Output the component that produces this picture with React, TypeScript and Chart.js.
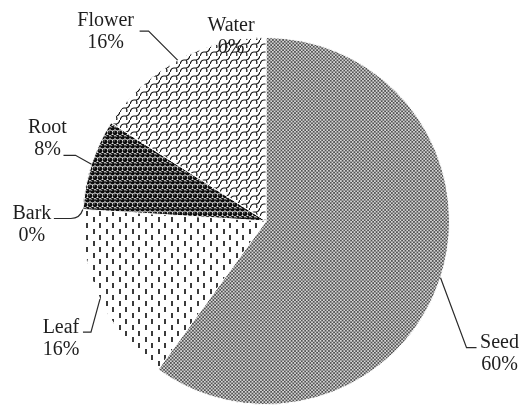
import React, { useEffect, useRef } from "react";
import { Chart, registerables } from "chart.js";

Chart.register(...registerables);

const categories = ["Seed", "Leaf", "Bark", "Root", "Flower", "Water"];
const values = [60, 16, 0, 8, 16, 0];

// label placement (offsets from the slice's outer edge point), not data
const LABEL_LAYOUT: Record<string, { knee?: [number, number]; tail?: [number, number]; text: [number, number]; curve?: boolean }> = {
  Seed: { knee: [26, 70], tail: [36, 70], text: [59, 65] },
  Leaf: { knee: [-9, 33], tail: [-17, 33], text: [-39, 29] },
  Bark: { knee: [-12, 9], tail: [-29, 9], text: [-51, 4], curve: true },
  Root: { knee: [-16, -9], tail: [-28, -9], text: [-44, -37] },
  Flower: { knee: [-29, -29], tail: [-38, -29], text: [-72, -39] },
  Water: { text: [-35, -12] },
};

function makeTile(w: number, h: number, draw: (c: CanvasRenderingContext2D) => void, scale = 1) {
  const cv = document.createElement("canvas");
  cv.width = w;
  cv.height = h;
  const c = cv.getContext("2d")!;
  draw(c);
  const p = c.createPattern(cv, "repeat")!;
  if (scale !== 1 && (p as any).setTransform) {
    p.setTransform(new DOMMatrix().scale(scale));
  }
  return p;
}

function makePatterns() {
  const seed = makeTile(
    4,
    4,
    (c) => {
      c.fillStyle = "#525252";
      c.fillRect(0, 0, 4, 4);
      c.fillStyle = "#d6d6d6";
      c.fillRect(0, 0, 2, 2);
      c.fillRect(2, 2, 2, 2);
    },
    0.85
  );
  const leaf = makeTile(13, 12, (c) => {
    c.fillStyle = "#ffffff";
    c.fillRect(0, 0, 13, 12);
    c.fillStyle = "#3a3a3a";
    c.fillRect(2, 1, 2, 5);
    c.fillRect(8, 7, 2, 5);
  });
  const bark = makeTile(4, 4, (c) => {
    c.fillStyle = "#999";
    c.fillRect(0, 0, 4, 4);
  });
  const root = makeTile(5, 9, (c) => {
    c.fillStyle = "#e6e6e6";
    c.fillRect(0, 0, 5, 9);
    c.fillStyle = "#0d0d0d";
    const pts: [number, number][] = [[2.5, 2.25], [0, 6.75], [5, 6.75]];
    for (const [x, y] of pts) {
      c.beginPath();
      c.arc(x, y, 2.35, 0, Math.PI * 2);
      c.fill();
    }
    c.fillStyle = "#9a9a9a";
    for (const [x, y] of pts) {
      c.beginPath();
      c.arc(x - 0.8, y - 0.8, 0.6, 0, Math.PI * 2);
      c.fill();
    }
  });
  const flower = makeTile(10, 8, (c) => {
    c.fillStyle = "#ffffff";
    c.fillRect(0, 0, 10, 8);
    c.strokeStyle = "#111";
    c.lineWidth = 1.2;
    c.beginPath();
    c.moveTo(0, 8.5);
    c.quadraticCurveTo(1, 4, 4, 4);
    c.lineTo(6, 4);
    c.quadraticCurveTo(9, 4, 10, -0.5);
    c.moveTo(6, 4);
    c.quadraticCurveTo(7.5, 6, 6.5, 8.5);
    c.stroke();
  });
  const water = makeTile(4, 4, (c) => {
    c.fillStyle = "#bbb";
    c.fillRect(0, 0, 4, 4);
  });
  return [seed, leaf, bark, root, flower, water];
}

const labelPlugin = {
  id: "pieLabels",
  afterDatasetsDraw(chart: any) {
    const ctx: CanvasRenderingContext2D = chart.ctx;
    const meta = chart.getDatasetMeta(0);
    const data: number[] = chart.data.datasets[0].data;
    const total = data.reduce((a, b) => a + b, 0);
    ctx.save();
    ctx.font = '20px "Liberation Serif", "Times New Roman", serif';
    ctx.textAlign = "center";
    ctx.textBaseline = "middle";
    meta.data.forEach((arc: any, i: number) => {
      const { x, y, startAngle, endAngle, outerRadius } = arc.getProps(
        ["x", "y", "startAngle", "endAngle", "outerRadius"],
        true
      );
      const mid = (startAngle + endAngle) / 2;
      const ex = x + Math.cos(mid) * outerRadius;
      const ey = y + Math.sin(mid) * outerRadius;
      const name = chart.data.labels[i];
      const lay = LABEL_LAYOUT[name];
      if (!lay) return;
      if (lay.knee && lay.tail) {
        ctx.strokeStyle = "#2a2a2a";
        ctx.lineWidth = 1.2;
        ctx.beginPath();
        ctx.moveTo(ex, ey);
        if (lay.curve) {
          ctx.quadraticCurveTo(ex - 3, ey + lay.knee[1], ex + lay.knee[0], ey + lay.knee[1]);
        } else {
          ctx.lineTo(ex + lay.knee[0], ey + lay.knee[1]);
        }
        ctx.lineTo(ex + lay.tail[0], ey + lay.tail[1]);
        ctx.stroke();
      }
      const pct = Math.round((data[i] / total) * 100) + "%";
      const tx = ex + lay.text[0];
      const ty = ey + lay.text[1];
      ctx.fillStyle = "#1e1e1e";
      ctx.fillText(name, tx, ty);
      ctx.fillText(pct, tx, ty + 22);
    });
    ctx.restore();
  },
};

export default function App() {
  const ref = useRef<HTMLCanvasElement | null>(null);
  useEffect(() => {
    if (!ref.current) return;
    const patterns = makePatterns();
    const chart = new Chart(ref.current, {
      type: "pie",
      data: {
        labels: categories,
        datasets: [
          {
            data: values,
            backgroundColor: patterns as any,
            borderColor: "#ffffff",
            borderWidth: 1,
          },
        ],
      },
      options: {
        animation: false,
        responsive: false,
        devicePixelRatio: 1,
        layout: { padding: { left: 82, right: 79, top: 37, bottom: 1 } },
        plugins: {
          legend: { display: false },
          tooltip: { enabled: false },
        },
        events: [],
      },
      plugins: [labelPlugin],
    });
    return () => chart.destroy();
  }, []);
  return (
    <div style={{ position: "fixed", left: 0, top: 0, width: 529, height: 406, background: "#fff" }}>
      <canvas ref={ref} width={529} height={406} style={{ width: 529, height: 406 }} />
    </div>
  );
}
